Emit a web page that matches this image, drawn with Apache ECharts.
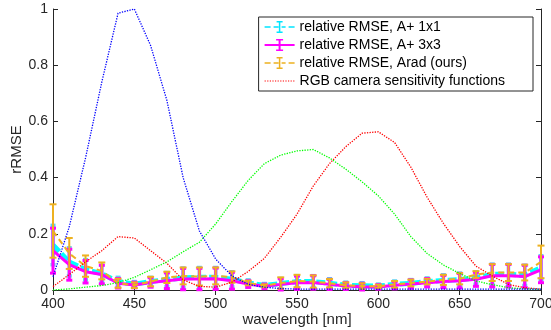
<!DOCTYPE html>
<html>
<head>
<meta charset="utf-8">
<script src="https://cdn.jsdelivr.net/npm/echarts@6/dist/echarts.min.js"></script>
<style>html,body{margin:0;padding:0;background:#fff}#c{width:551px;height:330px}</style>
</head>
<body>
<div id="c"></div>
<script>
const wavelengths = [400,410,420,430,440,450,460,470,480,490,500,510,520,530,540,550,560,570,580,590,600,610,620,630,640,650,660,670,680,690,700];

const rmseA1 = [0.16,0.10,0.072,0.058,0.030,0.021,0.030,0.037,0.043,0.045,0.045,0.038,0.025,0.016,0.023,0.030,0.030,0.024,0.017,0.015,0.014,0.020,0.024,0.030,0.034,0.037,0.042,0.056,0.056,0.052,0.080];
const errA1  = [0.07,0.05,0.036,0.030,0.015,0.009,0.015,0.025,0.035,0.035,0.035,0.027,0.011,0.007,0.018,0.021,0.021,0.016,0.011,0.011,0.007,0.012,0.013,0.013,0.020,0.023,0.022,0.036,0.036,0.036,0.042];

const rmseA3 = [0.14,0.090,0.065,0.055,0.024,0.018,0.027,0.033,0.039,0.039,0.040,0.033,0.021,0.013,0.020,0.026,0.027,0.020,0.014,0.012,0.011,0.017,0.021,0.026,0.030,0.033,0.038,0.051,0.051,0.048,0.072];
const errA3  = [0.08,0.055,0.040,0.033,0.017,0.010,0.017,0.028,0.038,0.038,0.038,0.030,0.012,0.008,0.020,0.024,0.024,0.018,0.012,0.012,0.008,0.013,0.015,0.015,0.022,0.026,0.025,0.040,0.040,0.040,0.046];

const rmseArad = [0.21,0.13,0.085,0.068,0.024,0.017,0.030,0.045,0.050,0.048,0.050,0.046,0.025,0.015,0.025,0.032,0.030,0.024,0.017,0.014,0.013,0.020,0.025,0.030,0.036,0.040,0.055,0.062,0.062,0.062,0.100];
const errArad  = [0.095,0.055,0.038,0.030,0.016,0.010,0.017,0.020,0.030,0.032,0.030,0.020,0.008,0.005,0.020,0.022,0.022,0.015,0.010,0.010,0.006,0.012,0.012,0.010,0.018,0.020,0.012,0.030,0.030,0.028,0.058];

const sensB = [0.047,0.225,0.47,0.74,0.985,1.0,0.87,0.675,0.40,0.21,0.11,0.05,0.02,0.01,0.005,0.003,0.003,0.003,0.003,0.003,0.003,0.003,0.003,0.003,0.003,0.003,0.003,0.003,0.003,0.003,0.003];
const sensG = [0.0,0.004,0.01,0.016,0.026,0.045,0.072,0.10,0.136,0.17,0.235,0.315,0.39,0.45,0.48,0.495,0.50,0.47,0.43,0.385,0.335,0.27,0.19,0.13,0.089,0.059,0.032,0.019,0.008,0.004,0.002];
const sensR = [0.012,0.055,0.10,0.14,0.19,0.185,0.14,0.095,0.036,0.013,0.01,0.028,0.066,0.113,0.188,0.27,0.37,0.45,0.51,0.558,0.563,0.525,0.437,0.33,0.237,0.155,0.085,0.05,0.02,0.008,0.003];

const xTicks = [400,450,500,550,600,650,700];
const yTicks = [0,0.2,0.4,0.6,0.8,1];

const names = ['relative RMSE, A+ 1x1','relative RMSE, A+ 3x3','relative RMSE, Arad (ours)','RGB camera sensitivity functions'];

const pairs = (ys) => wavelengths.map((w,i)=>[w, ys[i]]);
const triples = (ys, es) => wavelengths.map((w,i)=>[w, ys[i], es[i]]);

function errBar(color, width, cap) {
  return function(params, api) {
    const x = api.value(0), m = api.value(1), e = api.value(2);
    const hi = api.coord([x, Math.min(m + e, 1)]);
    const lo = api.coord([x, Math.max(m - e, 0)]);
    const st = {stroke: color, lineWidth: width};
    return {type:'group', children:[
      {type:'line', shape:{x1:hi[0], y1:hi[1], x2:lo[0], y2:lo[1]}, style:st},
      {type:'line', shape:{x1:hi[0]-cap, y1:hi[1], x2:hi[0]+cap, y2:hi[1]}, style:st},
      {type:'line', shape:{x1:lo[0]-cap, y1:lo[1], x2:lo[0]+cap, y2:lo[1]}, style:st}
    ]};
  };
}

const axisColor = '#262626';
const iconErrDash = 'path://M0,5.75h6v1.5h-6z M9,5.75h5v1.5h-5z M17,5.75h4v1.5h-4z M24,5.75h6v1.5h-6z M14.25,0.5h1.5v12h-1.5z M12,0.5h6v1.5h-6z M12,11h6v1.5h-6z M0,0h0.01v0.01h-0.01z M29.99,12.99h0.01v0.01h-0.01z';
const iconErrSolid = 'path://M0,5.5h30v2h-30z M14,0.5h2v12h-2z M11.5,0.5h7v1.6h-7z M11.5,10.9h7v1.6h-7z M0,0h0.01v0.01h-0.01z M29.99,12.99h0.01v0.01h-0.01z';
let dots = '';
for (let i = 0; i < 12; i++) dots += 'M' + (i*2.6) + ',5.9h1.2v1.2h-1.2z ';
const iconDot = 'path://' + dots + 'M0,0h0.01v0.01h-0.01z M29.99,12.99h0.01v0.01h-0.01z';

const chart = echarts.init(document.getElementById('c'), null, {renderer:'canvas'});
chart.setOption({
  animation: false,
  backgroundColor: '#fff',
  textStyle: {fontFamily: 'Liberation Sans, Arial, sans-serif'},
  grid: {left: 53, right: 10, top: 9, bottom: 40, containLabel: false, outerBoundsMode: 'none'},
  legend: {
    orient: 'vertical', right: 18, top: 17,
    padding: [3, 28, 3, 6], itemGap: 4, itemWidth: 30, itemHeight: 13,
    backgroundColor: '#fff', borderColor: axisColor, borderWidth: 1, borderRadius: 0,
    textStyle: {fontSize: 14, color: '#000', fontFamily: 'Liberation Sans, Arial, sans-serif'},
    data: [
      {name: names[0], icon: iconErrDash, itemStyle: {color: '#00e5ff'}},
      {name: names[1], icon: iconErrSolid, itemStyle: {color: '#ff00ff'}},
      {name: names[2], icon: iconErrDash, itemStyle: {color: '#edb120'}},
      {name: names[3], icon: iconDot, itemStyle: {color: '#ff0000'}}
    ]
  },
  xAxis: [{
    type: 'value', min: 400, max: 700, interval: 50, position: 'bottom',
    name: 'wavelength [nm]', nameLocation: 'middle', nameGap: 22, nameMoveOverlap: false,
    nameTextStyle: {fontSize: 15, color: axisColor},
    axisLine: {show: true, lineStyle: {color: axisColor, width: 1}},
    axisTick: {show: true, inside: true, length: 5, lineStyle: {color: axisColor}},
    axisLabel: {fontSize: 14, color: axisColor, margin: 7},
    splitLine: {show: false}
  }, {
    type: 'value', min: 400, max: 700, interval: 50, position: 'top',
    axisLine: {show: true, lineStyle: {color: axisColor, width: 1}},
    axisTick: {show: true, inside: true, length: 5, lineStyle: {color: axisColor}},
    axisLabel: {show: false}, splitLine: {show: false}
  }],
  yAxis: [{
    type: 'value', min: 0, max: 1, interval: 0.2, position: 'left',
    name: 'rRMSE', nameLocation: 'middle', nameGap: 29, nameMoveOverlap: false,
    nameTextStyle: {fontSize: 15, color: axisColor},
    axisLine: {show: true, lineStyle: {color: axisColor, width: 1}},
    axisTick: {show: true, inside: true, length: 5, lineStyle: {color: axisColor}},
    axisLabel: {fontSize: 14, color: axisColor, margin: 5},
    splitLine: {show: false}
  }, {
    type: 'value', min: 0, max: 1, interval: 0.2, position: 'right',
    axisLine: {show: true, lineStyle: {color: axisColor, width: 1}},
    axisTick: {show: true, inside: true, length: 5, lineStyle: {color: axisColor}},
    axisLabel: {show: false}, splitLine: {show: false}
  }],
  series: [
    {name: 'errA1', type: 'custom', renderItem: errBar('#5fd0f0', 3.5, 2.5), data: triples(rmseA1, errA1), clip: false, z: 2},
    {name: names[0], type: 'line', data: pairs(rmseA1), showSymbol: false, clip: true, z: 2,
     lineStyle: {color: '#00ffff', width: 5, type: [9, 3]}, itemStyle: {color: '#00e5ff'}},
    {name: 'errA3', type: 'custom', renderItem: errBar('#ff00ff', 3, 3), data: triples(rmseA3, errA3), clip: false, z: 3},
    {name: names[1], type: 'line', data: pairs(rmseA3), showSymbol: false, clip: true, z: 3,
     lineStyle: {color: '#ff00ff', width: 3}, itemStyle: {color: '#ff00ff'}},
    {name: 'errArad', type: 'custom', renderItem: errBar('#edb120', 2, 3.5), data: triples(rmseArad, errArad), clip: false, z: 4},
    {name: names[2], type: 'line', data: pairs(rmseArad), showSymbol: false, clip: true, z: 4,
     lineStyle: {color: '#edb120', width: 2, type: [6, 4]}, itemStyle: {color: '#edb120'}},
    {name: names[3], type: 'line', data: pairs(sensR), showSymbol: false, clip: true, z: 5,
     lineStyle: {color: '#ff0000', width: 1.3, type: [1.3, 1.3]}, itemStyle: {color: '#ff0000'}},
    {name: 'sensG', type: 'line', data: pairs(sensG), showSymbol: false, clip: true, z: 5,
     lineStyle: {color: '#00ff00', width: 1.3, type: [1.3, 1.3]}},
    {name: 'sensB', type: 'line', data: pairs(sensB), showSymbol: false, clip: true, z: 5,
     lineStyle: {color: '#0000ff', width: 1.3, type: [1.3, 1.3]}}
  ]
});
</script>
</body>
</html>
